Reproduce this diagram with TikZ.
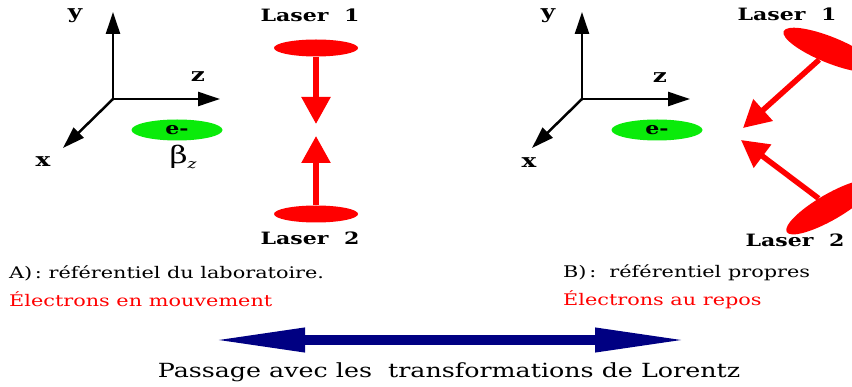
\documentclass[tikz,border=0pt]{standalone}
\usepackage{fontspec}
\setmainfont{DejaVu Serif}[FakeStretch=1.3]
\usetikzlibrary{positioning, shapes.geometric, arrows.meta}
\definecolor{laserred}{RGB}{255,0,0}
\definecolor{elecgreen}{RGB}{10,235,10}
\definecolor{passnavy}{RGB}{0,0,130}

\begin{document}
\begin{tikzpicture}[x=1pt, y=-1pt,
  axe/.style={line width=2.5pt, -{Triangle[length=22pt,width=14pt]}},
  lab/.style={font=\bfseries\fontsize{17}{17}\selectfont, inner sep=0pt},
  axlab/.style={font=\bfseries\fontsize{19}{19}\selectfont, inner sep=0pt},
  laser/.style={ellipse, fill=laserred, minimum width=84pt, minimum height=17pt, inner sep=0pt},
  beam/.style={laserred, line width=5.5pt, -{Triangle[length=27pt,width=28pt]}},
  elec/.style={ellipse, fill=elecgreen, minimum width=91pt, minimum height=21pt, inner sep=0pt, font=\bfseries\fontsize{17}{17}\selectfont},
  legende/.style={anchor=west, inner sep=0pt, font=\fontsize{16}{16}\selectfont}]
  \clip (0,0) rectangle (852,387);

  % A) referentiel du laboratoire
  \coordinate (O1) at (113,99);
  \coordinate (y1) at (113,12);
  \coordinate (z1) at (220,99);
  \coordinate (x1) at (63,148);
  \draw[axe] (O1) -- (y1);
  \draw[axe] (O1) -- (z1);
  \draw[axe] (O1) -- (x1);
  \node[axlab] (ly1) at (75,16) {y};
  \node[axlab] (lz1) at (198,77) {z};
  \node[axlab] (lx1) at (43,162) {x};
  \node[elec] (e1) at (177,130) {e-};
  \node[inner sep=0pt] (b1) at (183,157) {{\fontsize{24}{24}\selectfont β}{\fontsize{13}{13}\selectfont\itshape\raisebox{-5pt}{z}}};

  \node[lab] (LA1) at (310,15) {Laser\ \ 1};
  \node[laser] (LT1) at (316,48) {};
  \node[laser] (LB1) at (316,214) {};
  \node[lab] (LA2) at (310,238) {Laser\ \ 2};
  \coordinate (t1) at (316,124);
  \coordinate (t2) at (316,136);
  \draw[beam] (LT1) -- (t1);
  \draw[beam] (LB1) -- (t2);

  % B) referentiel propre
  \coordinate (O2) at (582,99);
  \coordinate (y2) at (582,12);
  \coordinate (z2) at (690,99);
  \coordinate (x2) at (532,148);
  \draw[axe] (O2) -- (y2);
  \draw[axe] (O2) -- (z2);
  \draw[axe] (O2) -- (x2);
  \node[axlab] (ly2) at (548,16) {y};
  \node[axlab] (lz2) at (660,78) {z};
  \node[axlab] (lx2) at (529,163) {x};
  \node[elec] (e2) at (657,130) {e-};

  \node[lab] (LA3) at (787,14) {Laser\ \ 1};
  \node[laser, minimum width=100pt, minimum height=26pt, rotate=-22] (LT2) at (830,50) {};
  \node[laser, minimum width=100pt, minimum height=26pt, rotate=30] (LB2) at (830,207) {};
  \node[lab] (LA4) at (795,240) {Laser\ \ 2};
  \coordinate (t3) at (743,128);
  \coordinate (t4) at (741,140);
  \draw[beam] (LT2) -- (t3);
  \draw[beam] (LB2) -- (t4);

  % legendes
  \node[legende] (ta) at (9,273) {A)\,: référentiel du laboratoire.};
  \node[legende, text=laserred, below=18pt of ta.south west, anchor=west] (ea) {Électrons en mouvement};
  \node[legende] (tb) at (563,273) {B)\,:\ \ référentiel propres};
  \node[legende, text=laserred, below=18pt of tb.south west, anchor=west] (eb) {Électrons au repos};

  \coordinate (pg) at (210,340);
  \coordinate (pd) at (690,340);
  \draw[passnavy, line width=10pt, {Triangle[length=95pt,width=22pt]}-{Triangle[length=95pt,width=22pt]}] (pg) -- (pd);
  \node[font=\fontsize{19.5}{19.5}\selectfont] (lor) at (449,372) {Passage avec les\ \ transformations de Lorentz};
\end{tikzpicture}
\end{document}
